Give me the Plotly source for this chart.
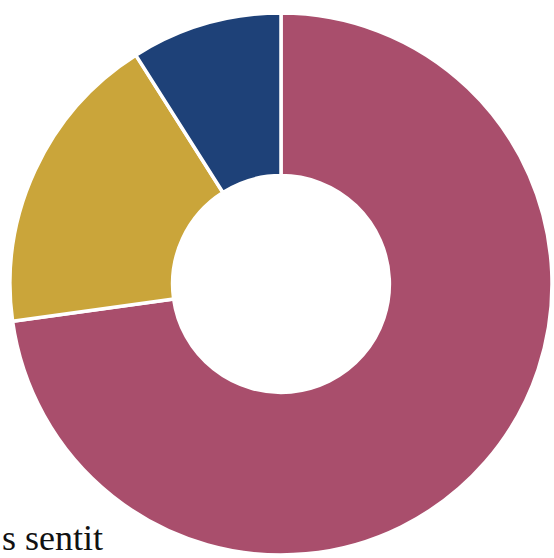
import plotly.graph_objects as go

categories = ["A", "B", "C"]
values = [72.8, 18.2, 9.0]
colors = ["#A94E6C", "#CAA53A", "#1E4178"]
caption = "s sentit"

fig = go.Figure()
fig.add_trace(go.Pie(
    labels=categories,
    values=values,
    hole=0.4,
    sort=False,
    direction="clockwise",
    rotation=0,
    textinfo="none",
    marker=dict(colors=colors, line=dict(color="#FFFFFF", width=3.5)),
    domain=dict(x=[10/554, 552/554], y=[1 - 555/558, 1 - 13/558]),
    showlegend=False,
))

fig.add_annotation(
    text=caption, xref="paper", yref="paper", x=0, y=1 - 538/558,
    xanchor="left", yanchor="middle", showarrow=False,
    font=dict(family="Liberation Serif", size=36, color="#111111"),
)

fig.update_layout(
    width=554, height=558,
    margin=dict(l=0, r=0, t=0, b=0),
    paper_bgcolor="white", plot_bgcolor="white",
)

fig.write_html(
    "out.html",
    config={"displayModeBar": False},
    post_script="document.body.style.margin='0';document.body.style.overflow='hidden';",
)
